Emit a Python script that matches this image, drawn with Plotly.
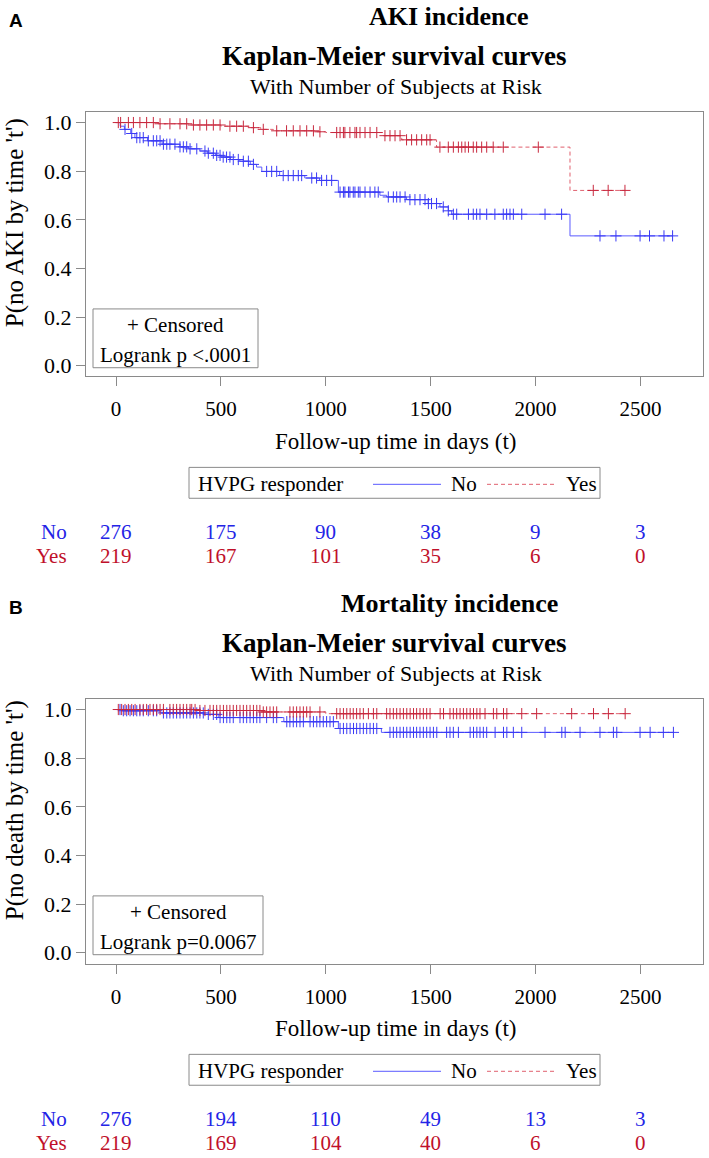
import numpy as np
import plotly.graph_objects as go

W, H = 709, 1158

# ---------------- DATA ----------------
# Panel A: AKI incidence
a_no_times = [0, 20, 40, 70, 90, 150, 220, 305, 345, 400, 435, 475, 500, 545, 590, 640, 670, 695,
              780, 900, 970, 1060, 1258, 1290, 1385, 1488, 1544, 1584, 1600, 2164]
a_no_surv = [1.0, 0.985, 0.972, 0.955, 0.938, 0.925, 0.911, 0.900, 0.892, 0.883, 0.874, 0.865, 0.858,
             0.848, 0.841, 0.828, 0.817, 0.799, 0.782, 0.772, 0.762, 0.714, 0.701, 0.694, 0.683, 0.667,
             0.653, 0.637, 0.623, 0.534]
a_no_cens = [43, 75, 99, 114, 130, 154, 178, 194, 210, 226, 242, 257, 281, 305, 321, 337, 353, 385, 424,
             440, 464, 480, 496, 511, 527, 543, 559, 583, 607, 631, 655, 718, 742, 766, 797, 821, 845, 869,
             885, 933, 956, 980, 1004, 1028, 1068, 1084, 1091, 1108, 1115, 1131, 1139, 1155, 1163, 1187,
             1211, 1234, 1250, 1298, 1322, 1338, 1354, 1378, 1401, 1425, 1449, 1473, 1489, 1504, 1528,
             1560, 1584, 1608, 1624, 1680, 1703, 1719, 1735, 1767, 1806, 1846, 1862, 1878, 1894, 1934,
             2045, 2124, 2307, 2383, 2498, 2543, 2612, 2653]

a_yes_times = [0, 200, 350, 500, 640, 690, 750, 950, 1000, 1274, 1362, 1528, 2164]
a_yes_surv = [1.0, 0.995, 0.990, 0.985, 0.979, 0.972, 0.966, 0.962, 0.959, 0.946, 0.929, 0.899, 0.721]
a_yes_cens = [11, 22, 59, 83, 114, 146, 178, 210, 257, 305, 337, 369, 400, 432, 464, 496, 543, 575, 607,
              655, 702, 766, 813, 845, 877, 909, 941, 972, 1052, 1068, 1084, 1091, 1115, 1139, 1147, 1163,
              1187, 1211, 1243, 1282, 1306, 1330, 1354, 1385, 1409, 1433, 1457, 1481, 1497, 1544, 1584,
              1608, 1632, 1648, 1664, 1680, 1703, 1719, 1743, 1767, 1798, 1846, 2013, 2275, 2346, 2426]

# Panel B: Mortality incidence
b_no_times = [0, 30, 210, 420, 490, 800, 1060, 1265]
b_no_surv = [1.0, 0.995, 0.986, 0.980, 0.967, 0.950, 0.922, 0.906]
b_no_cens = [19, 35, 51, 67, 83, 99, 114, 130, 154, 178, 194, 226, 242, 257, 273, 289, 305, 321, 337, 353,
             369, 385, 400, 416, 440, 464, 480, 496, 512, 528, 543, 559, 591, 607, 623, 639, 655, 671, 686,
             718, 750, 766, 814, 829, 845, 861, 877, 893, 925, 941, 957, 972, 988, 1004, 1020, 1036, 1068,
             1084, 1100, 1116, 1132, 1147, 1163, 1179, 1195, 1211, 1227, 1243, 1306, 1322, 1338, 1354,
             1370, 1386, 1402, 1418, 1433, 1449, 1465, 1481, 1497, 1513, 1529, 1576, 1592, 1608, 1632,
             1688, 1704, 1720, 1735, 1751, 1767, 1807, 1847, 1863, 1894, 1934, 2045, 2125, 2141, 2212,
             2307, 2371, 2387, 2498, 2546, 2609, 2657]

b_yes_times = [0, 385, 690, 1000]
b_yes_surv = [1.0, 0.996, 0.990, 0.983]
b_yes_cens = [11, 27, 43, 59, 75, 91, 114, 130, 146, 162, 178, 194, 210, 226, 257, 273, 289, 305, 321, 337,
              353, 361, 377, 400, 424, 448, 464, 480, 496, 512, 528, 543, 559, 575, 591, 607, 623, 639, 655,
              671, 686, 702, 718, 734, 750, 766, 829, 845, 861, 877, 893, 909, 925, 972, 1052, 1068, 1084,
              1100, 1116, 1131, 1147, 1163, 1179, 1203, 1227, 1243, 1290, 1306, 1322, 1338, 1354, 1370,
              1386, 1402, 1418, 1433, 1449, 1465, 1481, 1497, 1545, 1561, 1592, 1608, 1624, 1640, 1656,
              1672, 1688, 1704, 1720, 1735, 1759, 1799, 1815, 1847, 1863, 1934, 2005, 2172, 2276, 2347, 2427]

risk_times = [0, 500, 1000, 1500, 2000, 2500]
a_risk_no = [276, 175, 90, 38, 9, 3]
a_risk_yes = [219, 167, 101, 35, 6, 0]
b_risk_no = [276, 194, 110, 49, 13, 3]
b_risk_yes = [219, 169, 104, 40, 6, 0]

x_ticks = [0, 500, 1000, 1500, 2000, 2500]
y_ticks = [0.0, 0.2, 0.4, 0.6, 0.8, 1.0]

# ---------------- STYLE ----------------
SERIF = "Liberation Serif"
SANS = "Liberation Sans"
BLUE_LINE = "#5a5aff"
BLUE_MARK = "#3a3af5"
RED_LINE = "#e0606e"
RED_MARK = "#c8283e"
BLUE_TXT = "#2424e6"
RED_TXT = "#c0102a"
FRAME = "#8a8a8a"


def px(x):
    return x / W


def py(y):
    return 1 - y / H


def step_at(times, surv, t):
    i = np.searchsorted(np.asarray(times), t, side="right") - 1
    return float(np.asarray(surv)[max(i, 0)])


fig = go.Figure()

panels = [
    dict(dy=0, xa="x", ya="y", no=(a_no_times, a_no_surv, a_no_cens), yes=(a_yes_times, a_yes_surv, a_yes_cens),
         title="AKI incidence", ylab="P(no AKI by time 't')", plabel="A", logrank="Logrank p <.0001",
         rno=a_risk_no, ryes=a_risk_yes, box_w=165),
    dict(dy=589, xa="x2", ya="y2", no=(b_no_times, b_no_surv, b_no_cens), yes=(b_yes_times, b_yes_surv, b_yes_cens),
         title="Mortality incidence", ylab="P(no death by time 't')", plabel="B", logrank="Logrank p=0.0067",
         rno=b_risk_no, ryes=b_risk_yes, box_w=170),
]

annotations = []
shapes = []


def ann(text, x, y, size, family=SERIF, color="black", xanchor="center", **kw):
    return dict(text=text, x=px(x), y=py(y), font=dict(family=family, size=size, color=color),
                showarrow=False, xref="paper", yref="paper", xanchor=xanchor, yanchor="middle", **kw)


for p in panels:
    for (times, surv, cens), lc, mc, dash in [(p["no"], BLUE_LINE, BLUE_MARK, "solid"),
                                              (p["yes"], RED_LINE, RED_MARK, "4px,3px")]:
        end = max(cens)
        xs = list(times) + [end]
        ys = list(surv) + [surv[-1]]
        fig.add_trace(go.Scatter(x=xs, y=ys, mode="lines", line=dict(color=lc, width=1, shape="hv", dash=dash),
                                 xaxis=p["xa"], yaxis=p["ya"], hoverinfo="skip"))
        cy = [step_at(times, surv, t) for t in cens]
        fig.add_trace(go.Scatter(x=cens, y=cy, mode="markers",
                                 marker=dict(symbol="cross-thin", size=8, line=dict(width=1, color=mc)),
                                 xaxis=p["xa"], yaxis=p["ya"], hoverinfo="skip"))

    dy = p["dy"]
    annotations += [
        ann("<b>" + p["plabel"] + "</b>", 16, 20 + dy, 19, family=SANS),
        ann("<b>" + p["title"] + "</b>", 449, 16 + dy, 26),
        ann("<b>Kaplan-Meier survival curves</b>", 394, 55 + dy, 27),
        ann("With Number of Subjects at Risk", 396, 86 + dy, 22),
        ann(p["ylab"], 15, 223 + dy, 25, textangle=-90),
        ann("Follow-up time in days (t)", 395, 442 + dy, 23),
        ann("+ Censored", 93 + p["box_w"] / 2, 325 + dy, 21),
        ann(p["logrank"], 93 + p["box_w"] / 2, 355 + dy, 21),
        ann("HVPG responder", 196, 485 + dy, 21, xanchor="left"),
        ann("No", 449, 485 + dy, 21, xanchor="left"),
        ann("Yes", 564, 485 + dy, 21, xanchor="left"),
        ann("No", 69, 533 + dy, 21, color=BLUE_TXT, xanchor="right"),
        ann("Yes", 69, 557 + dy, 21, color=RED_TXT, xanchor="right"),
    ]
    for t, n_no, n_yes in zip(risk_times, p["rno"], p["ryes"]):
        annotations.append(dict(text=str(n_no), x=t, y=py(533 + dy), xref=p["xa"], yref="paper",
                                font=dict(family=SERIF, size=21, color=BLUE_TXT), showarrow=False,
                                xanchor="center", yanchor="middle"))
        annotations.append(dict(text=str(n_yes), x=t, y=py(557 + dy), xref=p["xa"], yref="paper",
                                font=dict(family=SERIF, size=21, color=RED_TXT), showarrow=False,
                                xanchor="center", yanchor="middle"))
    shapes += [
        dict(type="rect", xref="paper", yref="paper", x0=px(93), x1=px(93 + p["box_w"]),
             y0=py(368 + dy), y1=py(309 + dy), line=dict(color=FRAME, width=1)),
        dict(type="rect", xref="paper", yref="paper", x0=px(189), x1=px(600),
             y0=py(499 + dy), y1=py(468 + dy), line=dict(color=FRAME, width=1)),
        dict(type="line", xref="paper", yref="paper", x0=px(373), x1=px(441),
             y0=py(485 + dy), y1=py(485 + dy), line=dict(color=BLUE_LINE, width=1)),
        dict(type="line", xref="paper", yref="paper", x0=px(487), x1=px(555),
             y0=py(485 + dy), y1=py(485 + dy), line=dict(color=RED_LINE, width=1, dash="4px,3px")),
    ]

xcommon = dict(range=[-143, 2798], tickvals=x_ticks, ticks="outside", ticklen=9, tickcolor=FRAME,
               showline=True, mirror=True, linecolor=FRAME, linewidth=1, showgrid=False, zeroline=False,
               tickfont=dict(family=SERIF, size=21, color="black"), domain=[px(86), px(703)],
               ticklabelstandoff=5)
ycommon = dict(tickvals=y_ticks, tickformat=".1f", ticks="outside", ticklen=9, tickcolor=FRAME,
               showline=True, mirror=True, linecolor=FRAME, linewidth=1, showgrid=False, zeroline=False,
               tickfont=dict(family=SERIF, size=22, color="black"))

fig.update_layout(
    width=W, height=H, margin=dict(l=0, r=0, t=0, b=0),
    paper_bgcolor="white", plot_bgcolor="white", showlegend=False,
    font=dict(family=SERIF, color="black"),
    xaxis=dict(**xcommon, anchor="y"),
    yaxis=dict(**ycommon, range=[-0.041, 1.045], domain=[py(376), py(111)], anchor="x"),
    xaxis2=dict(**xcommon, anchor="y2"),
    yaxis2=dict(**ycommon, range=[-0.045, 1.045], domain=[py(966), py(700)], anchor="x2"),
    annotations=annotations, shapes=shapes,
)

fig.write_html("out.html", config={"displayModeBar": False},
               post_script="document.body.style.margin='0';document.body.style.overflow='hidden';")
